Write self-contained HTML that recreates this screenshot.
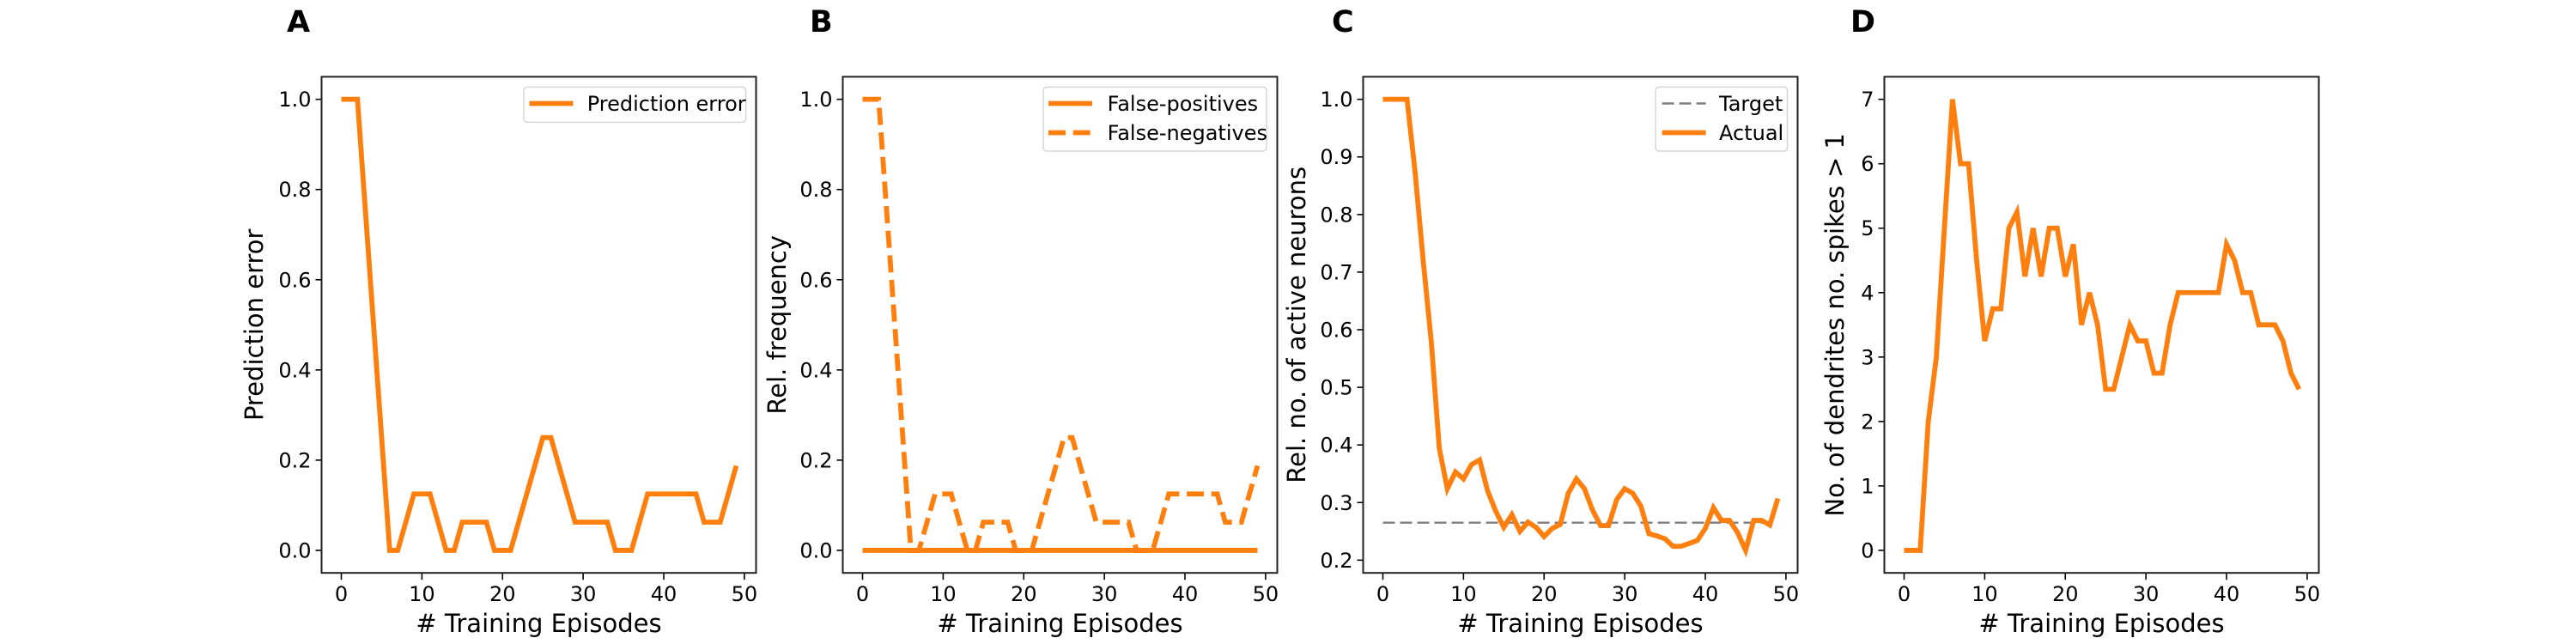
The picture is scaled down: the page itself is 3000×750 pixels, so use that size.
<!DOCTYPE html>
<html><head><meta charset="utf-8">
<style>
html,body{margin:0;padding:0;background:#fff;}
svg{display:block;font-family:"DejaVu Sans","Liberation Sans",sans-serif;}
</style></head>
<body>
<svg id="fig" width="3000" height="750" viewBox="0 0 3000 750" xmlns="http://www.w3.org/2000/svg"></svg>
<script>
const episodes = Array.from({length:50},(_,i)=>i);
const predictionError = [1,1,1,0.75,0.5,0.25,0,0,0.0625,0.125,0.125,0.125,0.0625,0,0,0.0625,0.0625,0.0625,0.0625,0,0,0,0.0625,0.125,0.1875,0.25,0.25,0.1875,0.125,0.0625,0.0625,0.0625,0.0625,0.0625,0,0,0,0.0625,0.125,0.125,0.125,0.125,0.125,0.125,0.125,0.0625,0.0625,0.0625,0.125,0.1875];
const falsePositives = new Array(50).fill(0);
const falseNegatives = [1,1,1,0.75,0.5,0.25,0,0,0.0625,0.125,0.125,0.125,0.0625,0,0,0.0625,0.0625,0.0625,0.0625,0,0,0,0.0625,0.125,0.1875,0.25,0.25,0.1875,0.125,0.0625,0.0625,0.0625,0.0625,0.0625,0,0,0,0.0625,0.125,0.125,0.125,0.125,0.125,0.125,0.125,0.0625,0.0625,0.0625,0.125,0.1875];
const activeActual = [1,1,1,1,0.873,0.72,0.58,0.394,0.324,0.353,0.341,0.366,0.374,0.32,0.285,0.257,0.279,0.25,0.266,0.257,0.241,0.255,0.262,0.316,0.341,0.324,0.287,0.26,0.26,0.305,0.324,0.316,0.294,0.246,0.242,0.237,0.224,0.224,0.229,0.234,0.255,0.291,0.269,0.269,0.248,0.217,0.269,0.269,0.261,0.307];
const activeTarget = 0.265;
const dendriteSpikes = [0,0,0,2,3,5,7,6,6,4.5,3.25,3.75,3.75,5,5.25,4.25,5,4.25,5,5,4.25,4.75,3.5,4,3.5,2.5,2.5,3,3.5,3.25,3.25,2.75,2.75,3.5,4,4,4,4,4,4,4.75,4.5,4,4,3.5,3.5,3.5,3.25,2.75,2.5];
const xTicks = [0,10,20,30,40,50];
const ticksAB = [0,0.2,0.4,0.6,0.8,1.0];
const ticksC = [0.2,0.3,0.4,0.5,0.6,0.7,0.8,0.9,1.0];
const ticksD = [0,1,2,3,4,5,6,7];

const NS="http://www.w3.org/2000/svg";
const svg=document.getElementById('fig');
const ORANGE="#ff7f0e";
function mk(tag,attrs,parent){const e=document.createElementNS(NS,tag);for(const k in attrs)e.setAttribute(k,attrs[k]);(parent||svg).appendChild(e);return e;}

function panel(opt){
  const L=opt.left,T=89.4,W=506,H=577.8;
  const g=mk('g',{});
  
  
  let ymin=Infinity,ymax=-Infinity;
  opt.series.forEach(s=>s.values.forEach(v=>{ymin=Math.min(ymin,v);ymax=Math.max(ymax,v);}));
  if(opt.extra!==undefined){ymin=Math.min(ymin,opt.extra);ymax=Math.max(ymax,opt.extra);}
  const yr=ymax-ymin||1; const y0=ymin-0.05*yr,y1=ymax+0.05*yr;
  const xmin=0,xmax=episodes[episodes.length-1];const xr=xmax-xmin;
  const x0=xmin-0.05*xr,x1=xmax+0.05*xr;
  const X=v=>L+(v-x0)/(x1-x0)*W;
  const Y=v=>T+H-(v-y0)/(y1-y0)*H;
  const lt=mk('text',{x:opt.letterX,y:37,'font-size':35,'font-weight':'bold',fill:'#000'},g);lt.textContent=opt.letter;
  
  
  xTicks.forEach(t=>{
    const x=X(t);
    mk('line',{x1:x,x2:x,y1:T+H,y2:T+H+8,stroke:'#000','stroke-width':1.6},g);
    const tx=mk('text',{x:x,y:700,'font-size':24,'text-anchor':'middle',fill:'#000'},g);tx.textContent=t;
    
    
  });
  opt.yTicks.forEach(t=>{
    const y=Y(t);
    mk('line',{x1:L-7,x2:L,y1:y,y2:y,stroke:'#000','stroke-width':1.6},g);
    const tx=mk('text',{x:L-12,y:y+8.5,'font-size':24,'text-anchor':'end',fill:'#000'},g);tx.textContent=opt.fmt(t);
    
    
  });
  const xl=mk('text',{x:L+W/2,y:736,'font-size':29,'text-anchor':'middle',fill:'#000'},g);xl.textContent='# Training Episodes';
  
  
  const yl=mk('text',{x:0,y:0,'font-size':29,'text-anchor':'middle',fill:'#000',transform:`translate(${opt.ylabelX},${T+H/2}) rotate(-90)`},g);yl.textContent=opt.ylabel;
  
  
  if(opt.extra!==undefined){
    const tl=mk('line',{x1:X(0),x2:X(xmax),y1:Y(opt.extra),y2:Y(opt.extra),stroke:'#7f7f7f','stroke-width':2.4,'stroke-dasharray':'14 6'},g);
    
    
  }
  opt.series.forEach(s=>{
    const d=s.values.map((v,i)=>(i?'L':'M')+X(episodes[i]).toFixed(2)+','+Y(v).toFixed(2)).join(' ');
    const p=mk('path',{d:d,fill:'none',stroke:ORANGE,'stroke-width':5.8,'stroke-linejoin':'miter','stroke-linecap':'butt'},g);
    if(s.dash)p.setAttribute('stroke-dasharray',s.dash);
    
    
  });
  const fr=mk('rect',{x:L,y:T,width:W,height:H,fill:'none',stroke:'#222','stroke-width':2},g);
  
  
  const lg=opt.legend;
  if(lg.items.length){
    const lgG=mk('g',{},g);
    
    
    mk('rect',{x:lg.x,y:101.4,width:lg.w,height:lg.items.length===1?41:74.6,rx:4,fill:'#fff','fill-opacity':0.8,stroke:'#d6d6d6','stroke-width':1.5},lgG);
    lg.items.forEach((it,i)=>{
      const cy=120.5+i*34;
      const ln=mk('line',{x1:lg.sx,x2:lg.sx+51,y1:cy,y2:cy,stroke:it.color,'stroke-width':it.w},lgG);
      if(it.dash)ln.setAttribute('stroke-dasharray',it.dash);
      const tx=mk('text',{x:lg.tx,y:cy+8.5,'font-size':24,fill:'#000'},lgG);tx.textContent=it.label;
      
      
    });
  }
}
const f1=t=>t.toFixed(1), f0=t=>String(t);
panel({name:'panel-a',left:374.5,letter:'A',letterX:334,ylabel:'Prediction error',ylabelX:306,yTicks:ticksAB,fmt:f1,
  series:[{name:'prediction-error-line',values:predictionError}],
  legend:{x:610,w:258.6,sx:616.5,tx:683.7,items:[{label:'Prediction error',color:ORANGE,w:5.8}]}});
panel({name:'panel-b',left:981.5,letter:'B',letterX:943,ylabel:'Rel. frequency',ylabelX:915,yTicks:ticksAB,fmt:f1,
  series:[{name:'false-negatives-line',values:falseNegatives,dash:'20 8.7'},{name:'false-positives-line',values:falsePositives}],
  legend:{x:1215,w:260,sx:1221,tx:1289.6,items:[{label:'False-positives',color:ORANGE,w:5.8},{label:'False-negatives',color:ORANGE,w:5.8,dash:'20 8.7'}]}});
panel({name:'panel-c',left:1587.5,letter:'C',letterX:1551,ylabel:'Rel. no. of active neurons',ylabelX:1520,yTicks:ticksC,fmt:f1,extra:activeTarget,
  series:[{name:'actual-active-line',values:activeActual}],
  legend:{x:1928,w:153.5,sx:1935.6,tx:2002,items:[{label:'Target',color:'#7f7f7f',w:2.4,dash:'14 6'},{label:'Actual',color:ORANGE,w:5.8}]}});
panel({name:'panel-d',left:2194.5,letter:'D',letterX:2155,ylabel:'No. of dendrites no. spikes > 1',ylabelX:2147,yTicks:ticksD,fmt:f0,
  series:[{name:'dendrite-spikes-line',values:dendriteSpikes}],
  legend:{x:0,w:0,sx:0,tx:0,items:[]}});
</script>
</body></html>
